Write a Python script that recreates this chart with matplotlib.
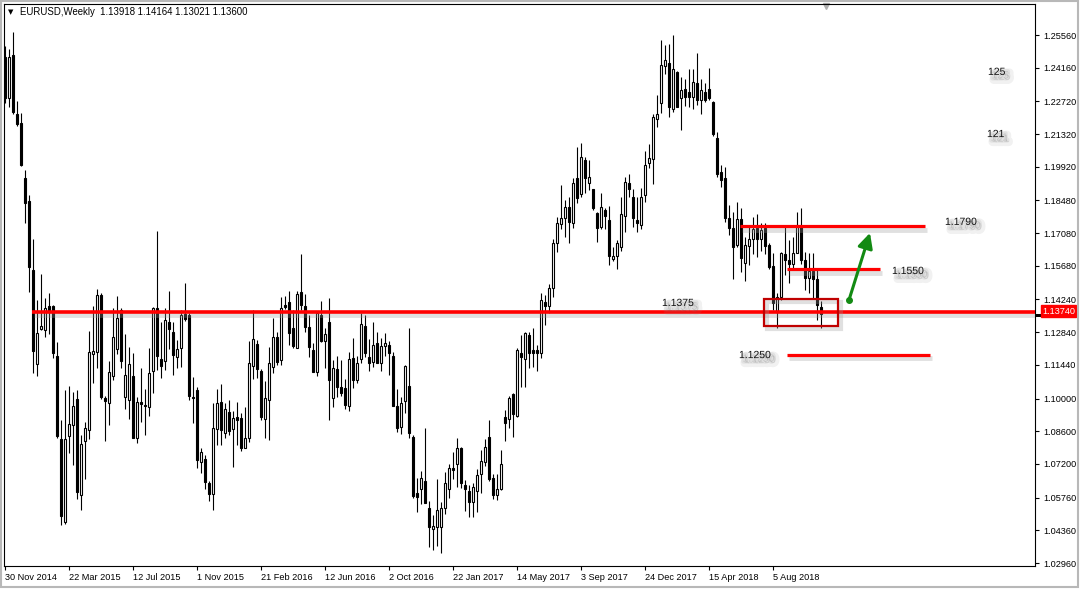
import matplotlib
matplotlib.use("Agg")
import matplotlib.pyplot as plt
import matplotlib.patheffects as pe
from matplotlib.transforms import blended_transform_factory
from matplotlib.patches import Rectangle

plt.rcParams['font.family'] = ['Liberation Sans', 'DejaVu Sans']

# ---------------- data (weekly EURUSD candles, 30 Nov 2014 onwards) ----------------
opens = [
1.2460,1.2285,1.2470,1.2216,1.2180,1.1945,1.1847,1.1550,1.1146,1.1299,
1.1292,1.1394,1.1394,1.1182,1.0829,1.0470,1.0839,1.0887,1.0997,1.0587,
1.0817,1.0864,1.1190,1.1200,1.1445,1.1004,1.0981,1.1095,1.1212,1.1379,
1.1007,1.0993,1.1095,1.0832,1.0985,1.0974,1.0963,1.1117,1.1387,1.1168,
1.1160,1.1328,1.1283,1.1179,1.1218,1.1360,1.1358,1.1008,1.1036,1.0727,
1.0741,1.0637,1.0590,1.0869,1.0984,1.0851,1.0941,1.0869,1.0921,1.0918,
1.0790,1.0830,1.1141,1.1233,1.1119,1.0911,1.0994,1.1137,1.1262,1.1165,
1.1399,1.1415,1.1301,1.1218,1.1457,1.1396,1.1308,1.1208,1.1112,1.1358,
1.1248,1.1329,1.1004,1.1125,1.1048,1.1044,1.0969,1.1172,1.1079,1.1168,
1.1311,1.1176,1.1158,1.1236,1.1151,1.1226,1.1229,1.1182,1.0968,1.0879,
1.0991,1.1054,1.0834,1.0594,1.0611,1.0647,1.0530,1.0440,1.0451,1.0449,
1.0530,1.0612,1.0701,1.0720,1.0787,1.0630,1.0605,1.0558,1.0605,1.0677,
1.0730,1.0834,1.0658,1.0587,1.0615,1.0919,1.0911,1.1019,1.0925,1.1196,
1.1168,1.1272,1.1208,1.1208,1.1196,1.1415,1.1396,1.1472,1.1664,1.1747,
1.1771,1.1821,1.1753,1.1942,1.1875,1.2021,1.1924,1.1896,1.1793,1.1733,
1.1807,1.1764,1.1596,1.1610,1.1647,1.1781,1.1924,1.1864,1.1764,1.1743,
1.1871,1.2010,1.2024,1.2195,1.2264,1.2423,1.2438,1.2238,1.2399,1.2285,
1.2323,1.2313,1.2292,1.2349,1.2278,1.2314,1.2324,1.2271,1.2114,1.1971,
1.1942,1.1771,1.1728,1.1657,1.1767,1.1581,1.1653,1.1681,1.1732,1.1681,
1.1728,1.1657,1.1567,1.1372,1.1436,1.1618,1.1595,1.1578,1.1624,1.1735,
1.1595,1.1518,1.1548,1.1510,1.13918]

highs = [
1.2511,1.2497,1.2570,1.2275,1.2222,1.1978,1.1872,1.1683,1.1423,1.1533,
1.1431,1.1452,1.1402,1.1241,1.0908,1.1036,1.1054,1.1029,1.1036,1.0846,
1.0898,1.1289,1.1394,1.1467,1.1452,1.1010,1.1160,1.1387,1.1438,1.1387,
1.1277,1.1219,1.1197,1.1007,1.1131,1.1043,1.1215,1.1390,1.1715,1.1328,
1.1387,1.1460,1.1329,1.1250,1.1379,1.1493,1.1365,1.1094,1.1051,1.0790,
1.0758,1.0647,1.0979,1.1043,1.1061,1.0979,1.0994,1.0947,1.0984,1.0937,
1.0965,1.1246,1.1379,1.1250,1.1126,1.1075,1.1222,1.1343,1.1283,1.1436,
1.1440,1.1462,1.1379,1.1460,1.1617,1.1446,1.1358,1.1236,1.1369,1.1418,
1.1301,1.1429,1.1165,1.1182,1.1165,1.1082,1.1201,1.1258,1.1182,1.1365,
1.1358,1.1254,1.1329,1.1286,1.1258,1.1279,1.1247,1.1201,1.1039,1.1008,
1.1143,1.1301,1.0844,1.0658,1.0691,1.0873,1.0563,1.0501,1.0654,1.0559,
1.0687,1.0720,1.0773,1.0830,1.0794,1.0651,1.0630,1.0637,1.0697,1.0780,
1.0825,1.0908,1.0677,1.0677,1.0780,1.0953,1.1010,1.1022,1.1215,1.1272,
1.1286,1.1286,1.1300,1.1229,1.1450,1.1443,1.1490,1.1681,1.1778,1.1914,
1.1850,1.1864,1.1942,1.2075,1.2095,1.2032,1.2021,1.1896,1.1800,1.1878,
1.1814,1.1824,1.1650,1.1678,1.1864,1.1949,1.1961,1.1899,1.1864,1.1903,
1.2061,1.2089,1.2218,1.2299,1.2535,1.2514,1.2517,1.2556,1.2403,1.2378,
1.2366,1.2409,1.2409,1.2478,1.2366,1.2352,1.2413,1.2275,1.2142,1.2000,
1.1992,1.1828,1.1800,1.1842,1.1814,1.1690,1.1735,1.1778,1.1792,1.1753,
1.1750,1.1664,1.1621,1.1450,1.1628,1.1733,1.1678,1.1693,1.1800,1.1814,
1.1628,1.1624,1.1621,1.1550,1.14164]

lows = [
1.2266,1.2248,1.2219,1.2168,1.1997,1.1752,1.1457,1.1109,1.1095,1.1292,
1.1263,1.1277,1.1175,1.0832,1.0459,1.0465,1.0766,1.0715,1.0569,1.0525,
1.0657,1.0825,1.1066,1.1131,1.1000,1.0817,1.0887,1.1080,1.1190,1.1131,
1.0956,1.0912,1.0832,1.0810,1.0898,1.0846,1.0927,1.1022,1.1124,1.1087,
1.1124,1.1212,1.1101,1.1129,1.1136,1.1332,1.0994,1.0894,1.0704,1.0680,
1.0615,1.0561,1.0523,1.0801,1.0801,1.0830,1.0844,1.0708,1.0801,1.0775,
1.0787,1.0813,1.1084,1.1086,1.0908,1.0830,1.0822,1.1108,1.1144,1.1144,
1.1383,1.1229,1.1215,1.1218,1.1379,1.1283,1.1179,1.1112,1.1098,1.1240,
1.1129,1.0908,1.0965,1.1005,1.1011,1.0954,1.0948,1.1044,1.1068,1.1154,
1.1179,1.1119,1.1136,1.1151,1.1119,1.1182,1.1101,1.0968,1.0858,1.0848,
1.0937,1.0830,1.0573,1.0516,1.0549,1.0551,1.0366,1.0352,1.0369,1.0340,
1.0508,1.0573,1.0654,1.0620,1.0616,1.0520,1.0491,1.0494,1.0516,1.0597,
1.0711,1.0648,1.0568,1.0566,1.0608,1.0819,1.0872,1.0837,1.0922,1.1048,
1.1048,1.1129,1.1136,1.1119,1.1172,1.1315,1.1367,1.1436,1.1628,1.1724,
1.1693,1.1664,1.1728,1.1835,1.1864,1.1878,1.1892,1.1807,1.1668,1.1724,
1.1724,1.1571,1.1590,1.1553,1.1633,1.1714,1.1861,1.1733,1.1714,1.1724,
1.1842,1.1985,1.1918,1.2164,1.2221,1.2389,1.2203,1.2228,1.2246,1.2149,
1.2252,1.2249,1.2238,1.2256,1.2218,1.2271,1.2278,1.2124,1.1950,1.1907,
1.1757,1.1700,1.1510,1.1650,1.1543,1.1504,1.1571,1.1619,1.1607,1.1633,
1.1618,1.1553,1.1381,1.1300,1.1422,1.1529,1.1493,1.1557,1.1621,1.1578,
1.1464,1.1450,1.1432,1.1336,1.13021]

closes = [
1.2285,1.2460,1.2226,1.2175,1.2000,1.1839,1.1562,1.1204,1.1280,1.1311,
1.1387,1.1372,1.1194,1.0839,1.0496,1.0825,1.0890,1.0966,1.0601,1.0806,
1.0873,1.1200,1.1204,1.1445,1.1007,1.0990,1.1112,1.1263,1.1346,1.1160,
1.1102,1.1150,1.0832,1.0985,1.0978,1.0966,1.1109,1.1387,1.1182,1.1138,
1.1336,1.1299,1.1186,1.1212,1.1358,1.1340,1.1012,1.1001,1.0737,1.0770,
1.0644,1.0590,1.0872,1.0979,1.0864,1.0955,1.0861,1.0918,1.0909,1.0790,
1.0830,1.1151,1.1254,1.1126,1.0922,1.1001,1.1151,1.1265,1.1158,1.1386,
1.1393,1.1279,1.1226,1.1446,1.1400,1.1308,1.1222,1.1112,1.1365,1.1246,
1.1276,1.1079,1.1129,1.1048,1.1025,1.0972,1.1168,1.1079,1.1151,1.1319,
1.1193,1.1151,1.1229,1.1151,1.1225,1.1236,1.1197,1.0968,1.0875,1.0982,
1.1139,1.0851,1.0583,1.0580,1.0658,1.0554,1.0449,1.0454,1.0523,1.0530,
1.0640,1.0701,1.0694,1.0787,1.0640,1.0611,1.0558,1.0620,1.0671,1.0734,
1.0794,1.0654,1.0587,1.0611,1.0722,1.0896,1.1001,1.0933,1.1208,1.1176,
1.1279,1.1193,1.1193,1.1193,1.1422,1.1396,1.1472,1.1667,1.1753,1.1771,
1.1818,1.1757,1.1921,1.1857,1.2032,1.1942,1.1949,1.1814,1.1728,1.1818,
1.1781,1.1610,1.1610,1.1664,1.1790,1.1928,1.1896,1.1771,1.1750,1.1864,
1.1999,1.2031,1.2204,1.2218,1.2428,1.2449,1.2249,1.2409,1.2249,1.2320,
1.2292,1.2292,1.2356,1.2278,1.2321,1.2278,1.2285,1.2132,1.1961,1.1935,
1.1771,1.1728,1.1647,1.1767,1.1600,1.1657,1.1681,1.1724,1.1685,1.1721,
1.1653,1.1561,1.1407,1.1436,1.1624,1.1595,1.1578,1.1624,1.1742,1.1595,
1.1518,1.1548,1.1510,1.1400,1.13600]

assert len(opens) == len(highs) == len(lows) == len(closes) == 205

date_labels = ["30 Nov 2014", "22 Mar 2015", "12 Jul 2015", "1 Nov 2015", "21 Feb 2016",
               "12 Jun 2016", "2 Oct 2016", "22 Jan 2017", "14 May 2017", "3 Sep 2017",
               "24 Dec 2017", "15 Apr 2018", "5 Aug 2018"]
date_label_idx = [0, 16, 32, 48, 64, 80, 96, 112, 128, 144, 160, 176, 192]

price_ticks = [1.25560, 1.24160, 1.22720, 1.21320, 1.19920, 1.18480, 1.17080, 1.15680,
               1.14240, 1.12840, 1.11440, 1.10000, 1.08600, 1.07200, 1.05760, 1.04360, 1.02960]

title_text = "EURUSD,Weekly  1.13918 1.14164 1.13021 1.13600"

# annotation levels (drawn positions) and their texts
main_level = 1.1372
main_label = "1.1375"
levels = [1.1738, 1.1554, 1.1188]
level_x = [(183.75, 230.0), (195.5, 218.75), (195.5, 231.25)]
level_labels = ["1.1790", "1.1550", "1.1250"]
level_label_pos = [(235.0, 1.1756), (221.75, 1.1546), (183.5, 1.1186)]
side_numbers = ["125", "121"]
side_number_pos = [(245.75, 1.2398), (245.5, 1.2132)]
box_x = (189.75, 208.25)
box_y = (1.1310, 1.1426)
arrow_start = (211.0, 1.1422)
arrow_end = (216.25, 1.1709)
bid_price = 1.13600
line_price = 1.13740

# ---------------- figure ----------------
W, H = 1080, 589
fig = plt.figure(figsize=(W / 100, H / 100), dpi=100)
fig.patch.set_facecolor('white')
ax = fig.add_axes([4 / W, 1 - 566 / H, (1035 - 4) / W, (566 - 4) / H])
ax.set_xlim(-0.25, 257.5)
ax.set_ylim(1.02833, 1.26887)
ax.set_facecolor('white')

x = list(range(len(opens)))
ax.vlines(x, lows, highs, color='black', lw=0.8, zorder=2)
bull = [i for i in x if closes[i] >= opens[i]]
bear = [i for i in x if closes[i] < opens[i]]
ax.bar(bull, [max(closes[i] - opens[i], 0.00008) for i in bull], bottom=[opens[i] for i in bull],
       width=0.5, facecolor='white', edgecolor='black', lw=0.8, zorder=3)
ax.bar(bear, [closes[i] - opens[i] for i in bear], bottom=[opens[i] for i in bear],
       width=0.5, facecolor='black', edgecolor='black', lw=0.8, zorder=3)

# soft shadows
line_fx = [pe.Stroke(offset=(1.5, -2.5), linewidth=3.5, foreground='#9a9a9a', alpha=0.3), pe.Normal()]
text_fx = [pe.Stroke(offset=(3.5, -3.5), linewidth=6, foreground='#8c8c8c', alpha=0.12),
           pe.Stroke(offset=(2.5, -2.5), linewidth=3, foreground='#8c8c8c', alpha=0.15),
           pe.Normal()]

# main red level line
ax.plot([6.75, 257.5], [main_level, main_level], color='#ff0000', lw=2.6, zorder=5,
        solid_capstyle='butt', path_effects=line_fx)
ax.text(164.25, 1.1409, main_label, fontsize=7.5, color='#111111', va='center', ha='left',
        zorder=6, path_effects=text_fx)

for (x0, x1), lv in zip(level_x, levels):
    ax.plot([x0, x1], [lv, lv], color='#ff0000', lw=2.3, zorder=5, solid_capstyle='butt',
            path_effects=line_fx)
for (tx, ty), lab in zip(level_label_pos, level_labels):
    ax.text(tx, ty, lab, fontsize=7.5, color='#111111', va='center', ha='left', zorder=6,
            path_effects=text_fx)
for (tx, ty), lab in zip(side_number_pos, side_numbers):
    ax.text(tx, ty, lab, fontsize=7.5, color='#111111', va='center', ha='left', zorder=6,
            path_effects=text_fx)

# box
rect = Rectangle((box_x[0], box_y[0]), box_x[1] - box_x[0], box_y[1] - box_y[0],
                 fill=False, edgecolor='#c00000', lw=1.6, zorder=6,
                 path_effects=[pe.Stroke(offset=(2, -2), linewidth=3, foreground='#9a9a9a', alpha=0.3),
                               pe.Normal()])
ax.add_patch(rect)

# green arrow
ax.annotate('', xy=arrow_end, xytext=arrow_start,
            arrowprops=dict(arrowstyle='-|>,head_length=0.9,head_width=0.45', color='#138a13', lw=2.2,
                            shrinkA=0, shrinkB=0), zorder=7)
ax.plot([arrow_start[0]], [arrow_start[1]], 'o', ms=4, color='#138a13', zorder=7)

# axes styling
for s in ['top', 'left', 'right', 'bottom']:
    ax.spines[s].set_color('black')
    ax.spines[s].set_linewidth(0.8)

ax.yaxis.tick_right()
ax.set_yticks(price_ticks)
ax.set_yticklabels([f"{v:.5f}" for v in price_ticks])
ax.tick_params(axis='y', direction='out', length=3, width=0.8, pad=3, labelsize=6.6,
               colors='black', right=True, left=False)
ax.set_xticks(date_label_idx)
ax.set_xticklabels(date_labels)
for lab in ax.get_xticklabels():
    lab.set_horizontalalignment('left')
ax.tick_params(axis='x', direction='out', length=3, width=0.8, pad=2, labelsize=6.6, colors='black')

# right-side price labels: bid strip (hidden under the line label) and the line's price label
tr = blended_transform_factory(ax.transAxes, ax.transData)
ax.add_patch(Rectangle((1.0, bid_price - 0.0009), 0.041, 0.0012, transform=tr, facecolor='black',
                       edgecolor='none', clip_on=False, zorder=8))
ax.annotate(f"{line_price:.5f}", xy=(1.0, line_price), xycoords=tr, xytext=(5, 0),
            textcoords='offset points', fontsize=6.6, color='white', va='center', ha='left',
            bbox=dict(boxstyle='square,pad=0.15', fc='#ff0000', ec='#ff0000'), annotation_clip=False, zorder=9)

# title
ax.text(0.004, 0.985, "\u25BC", transform=ax.transAxes, fontsize=5, va='center', ha='left',
        family=['DejaVu Sans'])
ax.text(0.0155, 0.985, title_text, transform=ax.transAxes, fontsize=6.9, va='center', ha='left')

# chart-shift marker
ax.plot([0.797], [0.997], marker='v', ms=5, color='#b0b0b0', transform=ax.transAxes, clip_on=False)

# window frame
fig.patches.append(Rectangle((0.001, 0.003), 0.997, 0.995, transform=fig.transFigure, fill=False,
                             edgecolor='#b8b8b8', lw=1.5))

fig.savefig('out.png', dpi=100, facecolor='white')
